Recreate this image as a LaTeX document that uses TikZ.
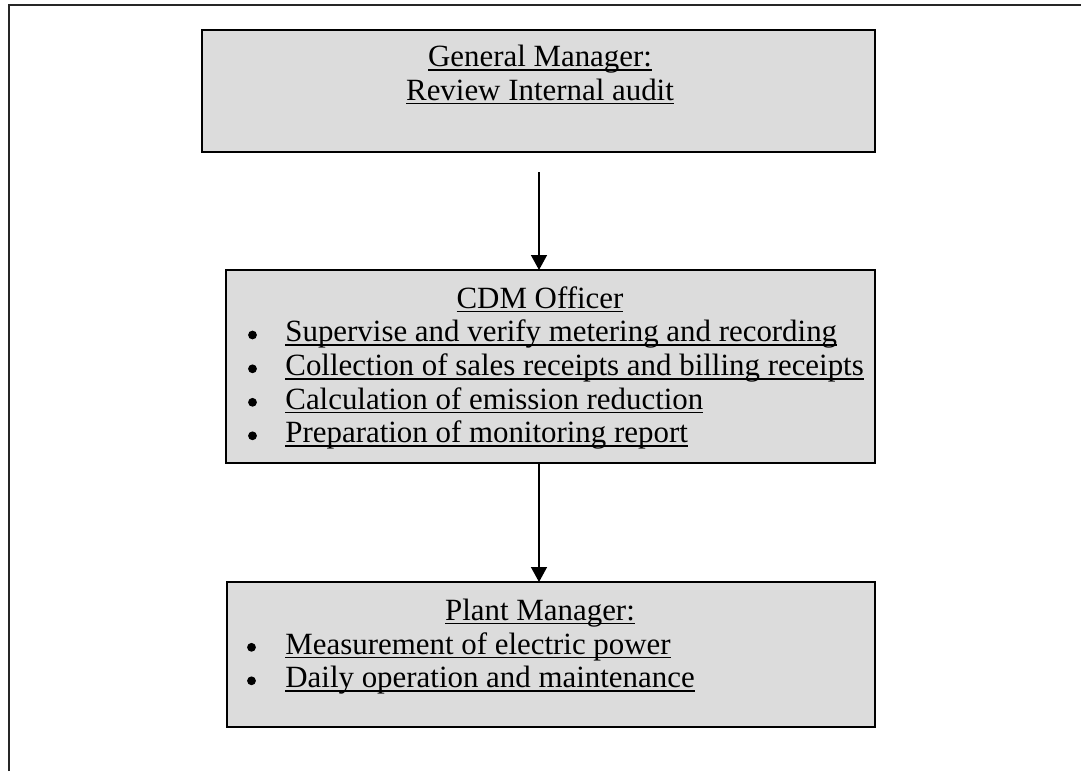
\documentclass[tikz,border=0pt]{standalone}
\usepackage{fontspec}
\setmainfont{Liberation Serif}
\usetikzlibrary{arrows.meta,calc}
\definecolor{panelgrey}{HTML}{DCDCDC}
% underline at a fixed depth below the baseline, as a word processor draws it
\newcommand\ulx[1]{\setbox0\hbox{#1}\rlap{\rule[-2.2pt]{\wd0}{0.95pt}}\box0}

\begin{document}
\begin{tikzpicture}[x=0.5pt,y=-0.5pt,
  panel/.style={draw=black, line width=1pt, fill=panelgrey, inner sep=0pt, outer sep=0pt, anchor=north west},
  txt/.style={font=\fontsize{15.45}{18}\selectfont, inner sep=0pt, anchor=base},
  item/.style={txt, anchor=base west},
  dot/.style={circle, fill=black, inner sep=0pt, minimum size=4.4pt},
  link/.style={-{Triangle[width=8pt,length=7.5pt]}, line width=0.75pt}]
\useasboundingbox (0,0) rectangle (1081,771);

% page frame (open on the right and at the bottom)
\draw[line width=0.85pt, black!85] (9,771) -- (9,5) -- (1081,5);

% boxes
\node[panel, minimum width=336.5pt, minimum height=61pt] (gm) at (202,30) {};
\node[panel, minimum width=324.5pt, minimum height=96.5pt] (cdm) at (226,270) {};
\node[panel, minimum width=324pt, minimum height=72.5pt] (pm) at (227,582) {};

% General Manager
\node[txt] (gmt) at (540,66.5) {\ulx{General Manager:}};
\node[txt] (gmr) at (540,100) {\ulx{Review Internal audit}};

% CDM Officer
\node[txt] (cdmt) at (540,308) {\ulx{CDM Officer}};
\node[dot] (c1) at (252.5,335) {};
\node[item] (c1t) at (285,341.7) {\ulx{Supervise and verify metering and recording}};
\node[dot] (c2) at (252.5,368.8) {};
\node[item] (c2t) at (285,375.5) {\ulx{Collection of sales receipts and billing receipts}};
\node[dot] (c3) at (252.5,402.3) {};
\node[item] (c3t) at (285,409) {\ulx{Calculation of emission reduction}};
\node[dot] (c4) at (252.5,435.8) {};
\node[item] (c4t) at (285,442.5) {\ulx{Preparation of monitoring report}};

% Plant Manager
\node[txt] (pmt) at (540,620) {\ulx{Plant Manager:}};
\node[dot] (p1) at (251.5,647.3) {};
\node[item] (p1t) at (285,654) {\ulx{Measurement of electric power}};
\node[dot] (p2) at (251.5,680.8) {};
\node[item] (p2t) at (285,687.5) {\ulx{Daily operation and maintenance}};

% connectors
\coordinate (gmout) at ($(gm.south)+(0.5,20)$);
\draw[link] (gmout) -- (gmout |- cdm.north);
\draw[link] (gmout |- cdm.south) -- (gmout |- pm.north);
\end{tikzpicture}
\end{document}
